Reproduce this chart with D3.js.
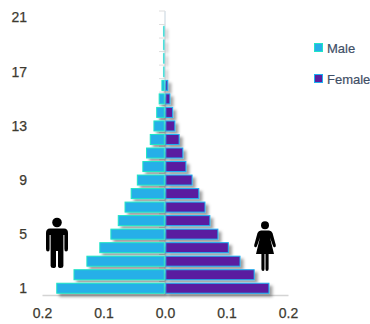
<!DOCTYPE html>
<html>
<head>
<meta charset="utf-8">
<script src="https://cdn.jsdelivr.net/npm/d3@7/dist/d3.min.js"></script>
<style>
  html, body { margin: 0; padding: 0; background: #fff; }
  svg { display: block; font-family: "Liberation Sans", Arial, sans-serif; }
</style>
</head>
<body>
<svg id="chart" width="370" height="324"></svg>
<script>
// Population pyramid: share of people in each age class, by sex.
const ageClasses = d3.range(1, 22);
const maleShare = [0.176, 0.148, 0.127, 0.106, 0.088, 0.076, 0.065, 0.055, 0.045, 0.036, 0.030,
                   0.024, 0.018, 0.0135, 0.0095, 0.005, 0.0025, 0.0025, 0.0025, 0.0025, 0.0002];
const femaleShare = [0.169, 0.145, 0.122, 0.103, 0.086, 0.073, 0.065, 0.055, 0.044, 0.034, 0.029,
                     0.023, 0.016, 0.0125, 0.008, 0.0045, 0, 0, 0, 0, 0];
const yTickLabels = [1, 5, 9, 13, 17, 21];
const xTickValues = [-0.2, -0.1, 0, 0.1, 0.2];
const seriesNames = ["Male", "Female"];

const colors = {
  Male: { fill: "#27afe8", edge: "#1fe6c6" },
  Female: { fill: "#5a1fa0", edge: "#1eb0f0" }
};
const inkColor = "#3d3a30";

const svg = d3.select("#chart");
const defs = svg.append("defs");
defs.append("filter").attr("id", "barShadow")
    .attr("filterUnits", "userSpaceOnUse")
    .attr("x", 0).attr("y", 0).attr("width", 370).attr("height", 324)
  .append("feDropShadow")
    .attr("dx", 3).attr("dy", 3).attr("stdDeviation", 1.6)
    .attr("flood-color", "#000").attr("flood-opacity", 0.38);

const x = d3.scaleLinear().domain([-0.2, 0.2]).range([42, 288]);
const y = d3.scaleBand().domain(ageClasses).range([295, 11]).paddingInner(0.26).paddingOuter(0.13);
const yTicks = d3.scalePoint().domain(ageClasses).range([288, 17.5]);

const styleLabels = sel => sel
  .attr("font-size", 14)
  .attr("font-family", "inherit")
  .attr("fill", inkColor)
  .attr("stroke", inkColor)
  .attr("stroke-width", 0.25);

// Bottom axis: grey rule with the shares printed unsigned on both sides of zero.
const xAxis = svg.append("g").attr("transform", "translate(0,295)")
  .call(d3.axisBottom(x).tickValues(xTickValues).tickSize(0).tickPadding(13)
    .tickFormat(d => Math.abs(d).toFixed(1)));
xAxis.select(".domain").attr("stroke", "#d4d4d4").attr("stroke-width", 1.5);
xAxis.selectAll("text").call(styleLabels);

// Left labels, set well away from the central spine.
const yAxis = svg.append("g").attr("transform", "translate(27,0)")
  .call(d3.axisLeft(yTicks).tickValues(yTickLabels).tickSize(0).tickPadding(0));
yAxis.select(".domain").remove();
yAxis.selectAll("text").call(styleLabels);

// Central spine with short ticks between age classes.
const spine = svg.append("g");
spine.append("line")
  .attr("x1", x(0)).attr("x2", x(0)).attr("y1", 11).attr("y2", 295)
  .attr("stroke", "#d8e2e8").attr("stroke-width", 1.5);
spine.selectAll("line.tick").data(ageClasses).join("line")
  .attr("class", "tick")
  .attr("x1", x(0) - 6).attr("x2", x(0))
  .attr("y1", d => y(d) - y.step() * 0.13)
  .attr("y2", d => y(d) - y.step() * 0.13)
  .attr("stroke", "#dedede").attr("stroke-width", 1);

const drawBars = (name, values, barX, barWidth) => {
  const rows = values.map((value, i) => ({ value, age: ageClasses[i] })).filter(r => r.value > 0);
  svg.append("g").attr("filter", "url(#barShadow)")
    .selectAll("rect").data(rows).join("rect")
      .attr("x", r => barX(r.value))
      .attr("y", r => y(r.age))
      .attr("width", r => barWidth(r.value))
      .attr("height", y.bandwidth())
      .attr("fill", colors[name].fill)
      .attr("stroke", colors[name].edge)
      .attr("stroke-opacity", r => r.value < 0.003 ? 0.55 : 1)
      .attr("stroke-width", 1);
};
drawBars("Male", maleShare, d => x(-d), d => Math.max(0, x(0) - x(-d) - 0.8));
drawBars("Female", femaleShare, () => x(0) + 0.8, d => Math.max(0, x(d) - x(0) - 0.8));

// Legend.
const legend = svg.append("g");
const legendY = d3.scalePoint().domain(seriesNames).range([48, 79]);
legend.selectAll("rect").data(seriesNames).join("rect")
  .attr("x", 314.5).attr("y", d => legendY(d) - 4.5)
  .attr("width", 8).attr("height", 8)
  .attr("fill", d => colors[d].fill)
  .attr("stroke", d => colors[d].edge);
legend.selectAll("text").data(seriesNames).join("text")
  .attr("x", 327).attr("y", d => legendY(d))
  .attr("dy", "0.35em")
  .attr("font-size", 13)
  .attr("fill", "#3f4f66")
  .attr("stroke", "#3f4f66")
  .attr("stroke-width", 0.2)
  .text(d => d);

// Pictograms of a man and a woman.
const man = svg.append("g").attr("transform", "translate(57,218)").attr("fill", "#000");
man.append("circle").attr("cx", 0).attr("cy", 4.5).attr("r", 4.8);
man.append("path").attr("d",
  "M-7 10.5 H7 Q11 10.5 11 15 V31 Q11 33.5 9 33.5 Q7.4 33.5 7.4 31 V17 H6.4 V48 Q6.4 50 3.8 50 Q1 50 1 48 V33 H-1 V48 Q-1 50 -3.8 50 Q-6.4 50 -6.4 48 V17 H-7.4 V31 Q-7.4 33.5 -9 33.5 Q-11 33.5 -11 31 V15 Q-11 10.5 -7 10.5 Z");

const woman = svg.append("g").attr("transform", "translate(265,221)").attr("fill", "#000");
woman.append("circle").attr("cx", 0).attr("cy", 4.3).attr("r", 4);
woman.append("path").attr("d",
  "M-4 9.5 H4 Q6.5 9.5 7.5 12 L10.8 24 Q11.2 26 9.8 26.3 Q8.6 26.6 8 25 L5 16.5 L9 33 H3.6 V48 Q3.6 50 1.9 50 Q0.5 50 0.5 48 V33 H-0.5 V48 Q-0.5 50 -1.9 50 Q-3.6 50 -3.6 48 V33 H-9 L-5 16.5 L-8 25 Q-8.6 26.6 -9.8 26.3 Q-11.2 26 -10.8 24 L-7.5 12 Q-6.5 9.5 -4 9.5 Z");
</script>
</body>
</html>
